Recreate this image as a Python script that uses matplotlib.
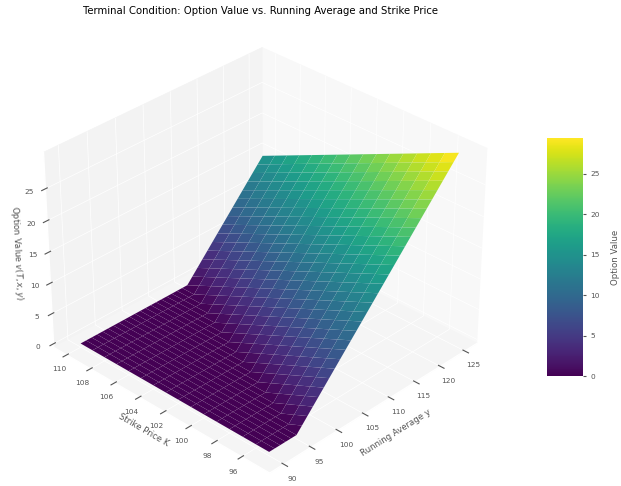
import numpy as np
import matplotlib
matplotlib.use('Agg')
import matplotlib.pyplot as plt

plt.style.use('ggplot')
plt.rcParams['grid.linewidth'] = 0.5

# grid
running_avg = [90, 91, 92, 93, 94, 95, 96, 97, 98, 99, 100, 101, 102, 103, 104, 105, 106, 107,
               108, 109, 110, 111, 112, 113, 114, 115, 116, 117, 118, 119, 120, 121, 122, 123, 124, 125]
strike = [95, 96, 97, 98, 99, 100, 101, 102, 103, 104, 105, 106, 107, 108, 109, 110]

# one row per strike, one column per running average
option_value = [
    [0, 0, 0, 0, 0, 0, 1, 2, 3, 4, 5, 6, 7, 8, 9, 10, 11, 12, 13, 14, 15, 16, 17, 18, 19, 20, 21, 22, 23, 24, 25, 26, 27, 28, 29, 30],
    [0, 0, 0, 0, 0, 0, 0, 1, 2, 3, 4, 5, 6, 7, 8, 9, 10, 11, 12, 13, 14, 15, 16, 17, 18, 19, 20, 21, 22, 23, 24, 25, 26, 27, 28, 29],
    [0, 0, 0, 0, 0, 0, 0, 0, 1, 2, 3, 4, 5, 6, 7, 8, 9, 10, 11, 12, 13, 14, 15, 16, 17, 18, 19, 20, 21, 22, 23, 24, 25, 26, 27, 28],
    [0, 0, 0, 0, 0, 0, 0, 0, 0, 1, 2, 3, 4, 5, 6, 7, 8, 9, 10, 11, 12, 13, 14, 15, 16, 17, 18, 19, 20, 21, 22, 23, 24, 25, 26, 27],
    [0, 0, 0, 0, 0, 0, 0, 0, 0, 0, 1, 2, 3, 4, 5, 6, 7, 8, 9, 10, 11, 12, 13, 14, 15, 16, 17, 18, 19, 20, 21, 22, 23, 24, 25, 26],
    [0, 0, 0, 0, 0, 0, 0, 0, 0, 0, 0, 1, 2, 3, 4, 5, 6, 7, 8, 9, 10, 11, 12, 13, 14, 15, 16, 17, 18, 19, 20, 21, 22, 23, 24, 25],
    [0, 0, 0, 0, 0, 0, 0, 0, 0, 0, 0, 0, 1, 2, 3, 4, 5, 6, 7, 8, 9, 10, 11, 12, 13, 14, 15, 16, 17, 18, 19, 20, 21, 22, 23, 24],
    [0, 0, 0, 0, 0, 0, 0, 0, 0, 0, 0, 0, 0, 1, 2, 3, 4, 5, 6, 7, 8, 9, 10, 11, 12, 13, 14, 15, 16, 17, 18, 19, 20, 21, 22, 23],
    [0, 0, 0, 0, 0, 0, 0, 0, 0, 0, 0, 0, 0, 0, 1, 2, 3, 4, 5, 6, 7, 8, 9, 10, 11, 12, 13, 14, 15, 16, 17, 18, 19, 20, 21, 22],
    [0, 0, 0, 0, 0, 0, 0, 0, 0, 0, 0, 0, 0, 0, 0, 1, 2, 3, 4, 5, 6, 7, 8, 9, 10, 11, 12, 13, 14, 15, 16, 17, 18, 19, 20, 21],
    [0, 0, 0, 0, 0, 0, 0, 0, 0, 0, 0, 0, 0, 0, 0, 0, 1, 2, 3, 4, 5, 6, 7, 8, 9, 10, 11, 12, 13, 14, 15, 16, 17, 18, 19, 20],
    [0, 0, 0, 0, 0, 0, 0, 0, 0, 0, 0, 0, 0, 0, 0, 0, 0, 1, 2, 3, 4, 5, 6, 7, 8, 9, 10, 11, 12, 13, 14, 15, 16, 17, 18, 19],
    [0, 0, 0, 0, 0, 0, 0, 0, 0, 0, 0, 0, 0, 0, 0, 0, 0, 0, 1, 2, 3, 4, 5, 6, 7, 8, 9, 10, 11, 12, 13, 14, 15, 16, 17, 18],
    [0, 0, 0, 0, 0, 0, 0, 0, 0, 0, 0, 0, 0, 0, 0, 0, 0, 0, 0, 1, 2, 3, 4, 5, 6, 7, 8, 9, 10, 11, 12, 13, 14, 15, 16, 17],
    [0, 0, 0, 0, 0, 0, 0, 0, 0, 0, 0, 0, 0, 0, 0, 0, 0, 0, 0, 0, 1, 2, 3, 4, 5, 6, 7, 8, 9, 10, 11, 12, 13, 14, 15, 16],
    [0, 0, 0, 0, 0, 0, 0, 0, 0, 0, 0, 0, 0, 0, 0, 0, 0, 0, 0, 0, 0, 1, 2, 3, 4, 5, 6, 7, 8, 9, 10, 11, 12, 13, 14, 15],
]
colorbar_top = 29.4

X, Y = np.meshgrid(running_avg, strike)
Z = np.array(option_value)

fig = plt.figure(figsize=(6.21, 4.86), dpi=100)
ax = fig.add_axes([0.01, -0.018, 0.815, 0.98], projection='3d')
ax.set_facecolor('white')
ax.view_init(elev=32, azim=-136)

# light panes, the ggplot grey is too dark here
ax.xaxis.set_pane_color('#f8f8f8')
ax.yaxis.set_pane_color('#f3f3f3')
ax.zaxis.set_pane_color('#f5f5f5')

surf = ax.plot_surface(X, Y, Z, cmap='viridis', edgecolor=(1, 1, 1, 0.04), linewidth=0.2)
surf.set_clim(0, colorbar_top)

ax.set_xlabel('Running Average y', fontsize=6.1, labelpad=-6)
ax.set_ylabel('Strike Price K', fontsize=6.1, labelpad=-9)
ax.set_zlabel('Option Value $v(T, x, y)$', fontsize=6.1, labelpad=-8)
ax.tick_params(labelsize=5.3, pad=-1.5)
ax.set_yticks([96, 98, 100, 102, 104, 106, 108, 110])
ax.set_zticks([0, 5, 10, 15, 20, 25])

fig.text(0.419, 0.977, 'Terminal Condition: Option Value vs. Running Average and Strike Price',
         ha='center', va='center', fontsize=7.25, color='black')

cax = fig.add_axes([547 / 621, 1 - 376 / 486, 36 / 621, 238 / 486])
cb = fig.colorbar(surf, cax=cax)
cb.set_label('Option Value', fontsize=6.2, color='#555555', labelpad=8)
cb.ax.tick_params(labelsize=5.3, colors='#555555', length=2)
cb.outline.set_visible(False)

fig.savefig('out.png', dpi=100)
